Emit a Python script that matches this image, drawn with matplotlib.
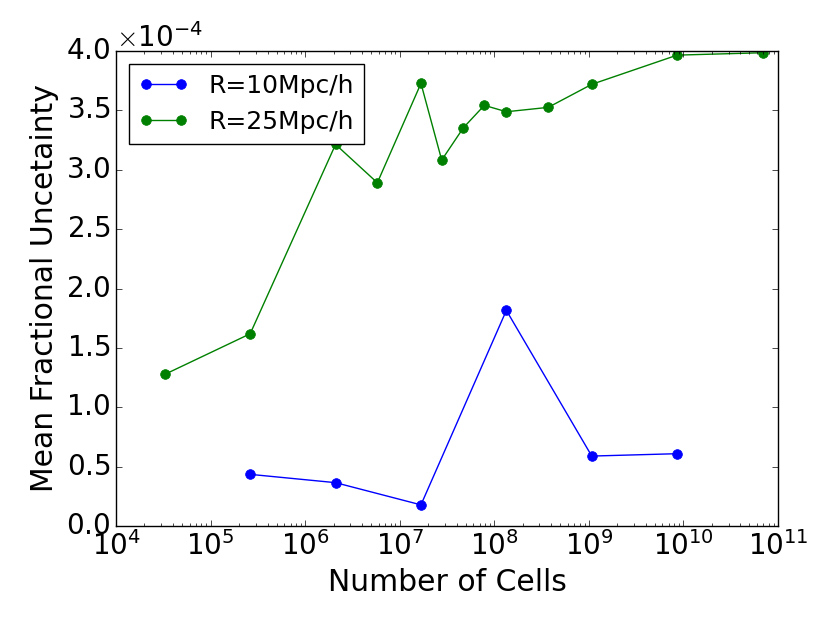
import numpy as np
import matplotlib
matplotlib.use('Agg')
import matplotlib.pyplot as plt

# cell counts and mean fractional uncertainty (units of 1e-4)
cells_10 = [262144, 2097152, 16777216, 134217728, 1073741824, 8589934592]
unc_10 = [0.435, 0.365, 0.178, 1.816, 0.589, 0.609]

cells_25 = [32768, 262144, 2097152, 5.8e6, 16777216, 2.78e7, 4.71e7, 7.85e7,
            134217728, 3.72e8, 1073741824, 8589934592, 68719476736]
unc_25 = [1.277, 1.619, 3.214, 2.891, 3.728, 3.082, 3.354, 3.543,
          3.489, 3.526, 3.72, 3.966, 3.986]

plt.style.use('classic')
plt.rcParams['font.family'] = ['DejaVu Sans']

fig = plt.figure(figsize=(8.3, 6.23), dpi=100, facecolor='white')
ax = fig.add_axes([0.1398, 0.1557, 0.7975, 0.7623])

ax.plot(cells_10, np.array(unc_10) * 1e-4, 'o-', color='b', mec='b', ms=7,
        label='R=10Mpc/h')
ax.plot(cells_25, np.array(unc_25) * 1e-4, 'o-', color='g', mec='g', ms=7,
        label='R=25Mpc/h')

ax.set_xscale('log')
ax.set_xlim(1e4, 1e11)
ax.set_ylim(0, 4e-4)
ax.ticklabel_format(axis='y', style='sci', scilimits=(0, 0), useMathText=True)
ax.set_xlabel('Number of Cells', fontsize=21.5)
ax.set_ylabel('Mean Fractional Uncetainty', fontsize=21.5)
ax.tick_params(labelsize=20)
ax.yaxis.get_offset_text().set_fontsize(20)
ax.legend(loc='upper left', fontsize=18)

fig.savefig('out.png', dpi=100, facecolor='white')
